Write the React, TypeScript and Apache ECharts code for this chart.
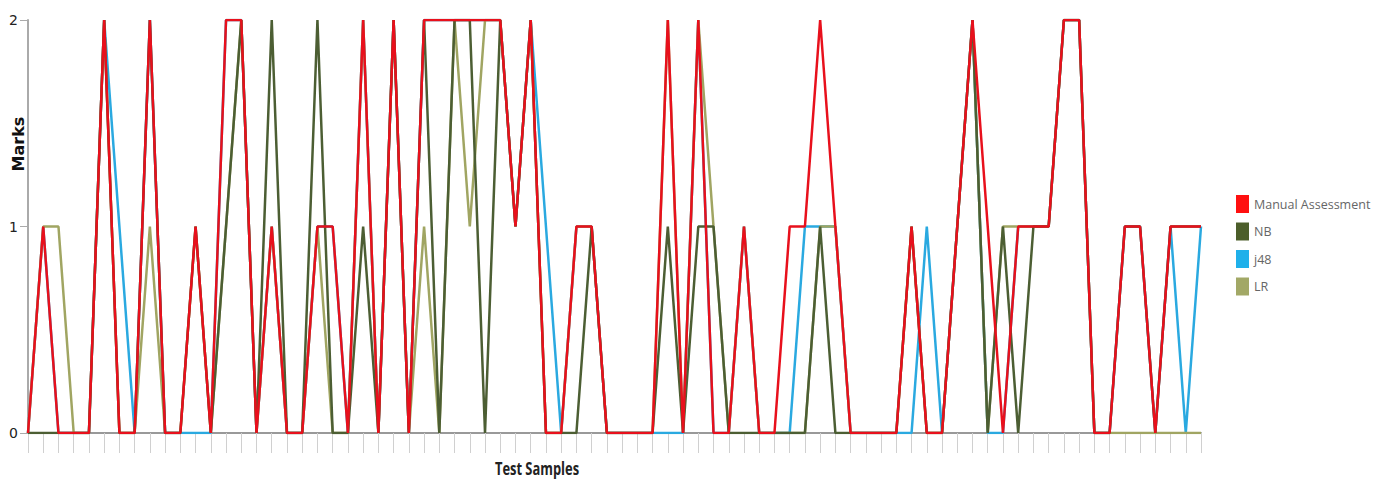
import React, { useEffect, useRef } from "react";
import * as echarts from "echarts";

const samples: string[] = Array.from({ length: 78 }, (_, i) => String(i + 1));

const manualAssessment = [0,1,0,0,0,2,0,0,2,0,0,1,0,2,2,0,1,0,0,1,1,0,2,0,2,0,2,2,2,2,2,2,1,2,0,0,1,1,0,0,0,0,2,0,2,0,0,1,0,0,1,1,2,1,0,0,0,0,1,0,0,1,2,1,0,1,1,1,2,2,0,0,1,1,0,1,1,1];
const nb =               [0,0,0,0,0,2,0,0,2,0,0,1,0,1,2,0,2,0,0,2,0,0,1,0,2,0,2,0,2,2,0,2,1,2,0,0,0,1,0,0,0,0,1,0,1,1,0,0,0,0,0,0,1,0,0,0,0,0,1,0,0,1,2,0,1,0,1,1,2,2,0,0,1,1,0,1,1,1];
const j48 =              [0,1,0,0,0,2,1,0,2,0,0,0,0,2,2,0,1,0,0,1,1,0,2,0,2,0,2,2,2,2,2,2,1,2,1,0,1,1,0,0,0,0,0,0,2,0,0,1,0,0,0,1,1,1,0,0,0,0,0,1,0,1,2,0,0,1,1,1,2,2,0,0,1,1,0,1,0,1];
const lr =               [0,1,1,0,0,2,0,0,1,0,0,1,0,1,2,0,1,0,0,1,0,0,2,0,2,0,1,0,2,1,2,2,1,2,0,0,1,1,0,0,0,0,2,0,2,1,0,1,0,0,0,0,1,1,0,0,0,0,1,0,0,1,2,0,1,1,1,1,2,2,0,0,0,0,0,0,0,0];

const yTicks = [0, 1, 2];

const seriesNames = ["Manual Assessment", "NB", "j48", "LR"];
const lineColors = ["#e8101c", "#4c5e33", "#2aa9e0", "#a0a562"];
const legendColors = ["#ff1010", "#4c5e2a", "#1fb0ea", "#a2a866"];

export default function App() {
  const ref = useRef<HTMLDivElement>(null);
  useEffect(() => {
    if (!ref.current) return;
    const chart = echarts.init(ref.current, undefined, { renderer: "svg" });
    const datasets = [manualAssessment, nb, j48, lr];
    const zs = [5, 4, 2, 3];
    chart.setOption({
      animation: false,
      backgroundColor: "#ffffff",
      grid: { left: 28, right: 180, top: 20, bottom: 48, containLabel: false },
      legend: {
        orient: "vertical",
        left: 1231,
        top: 190,
        itemWidth: 13,
        itemHeight: 18,
        itemGap: 9.5,
        icon: "rect",
        data: seriesNames.map((n, i) => ({ name: n, itemStyle: { color: legendColors[i] } })),
        textStyle: { fontSize: 12.5, color: "#666", fontFamily: "'Open Sans', sans-serif" },
      },
      xAxis: {
        type: "category",
        data: samples,
        boundaryGap: false,
        axisLine: { show: true, lineStyle: { color: "#999", width: 2 } },
        axisTick: { show: true, interval: 0, length: 20, lineStyle: { color: "#d0d0d0" } },
        axisLabel: { show: false },
        splitLine: { show: false },
      },
      yAxis: {
        type: "value",
        min: yTicks[0],
        max: yTicks[yTicks.length - 1],
        interval: 1,
        axisLine: { show: true, lineStyle: { color: "#aaa", width: 2 } },
        axisTick: { show: true, length: 8, lineStyle: { color: "#aaa" } },
        axisLabel: { fontSize: 14, color: "#222", margin: 10, fontFamily: "'DejaVu Sans', sans-serif" },
        splitLine: { show: false },
      },
      graphic: [
        {
          type: "text",
          x: 18,
          y: 144,
          rotation: Math.PI / 2,
          style: {
            text: "Marks",
            fontSize: 16,
            fontWeight: "bold",
            fontFamily: "'DejaVu Sans', sans-serif",
            fill: "#111",
            align: "center",
            verticalAlign: "middle",
          },
        },
        {
          type: "text",
          x: 537,
          y: 468,
          scaleX: 0.76,
          style: {
            text: "Test Samples",
            fontSize: 17,
            fontWeight: "bold",
            fontFamily: "'Open Sans', sans-serif",
            fill: "#222",
            align: "center",
            verticalAlign: "middle",
          },
        },
      ],
      series: seriesNames.map((name, i) => ({
        name,
        type: "line",
        data: datasets[i],
        showSymbol: false,
        symbol: "none",
        z: zs[i],
        color: lineColors[i],
        lineStyle: { color: lineColors[i], width: 2.5 },
      })),
    });
    return () => chart.dispose();
  }, []);
  return (
    <div
      ref={ref}
      style={{ position: "absolute", left: 0, top: 0, width: 1381, height: 481 }}
    />
  );
}
